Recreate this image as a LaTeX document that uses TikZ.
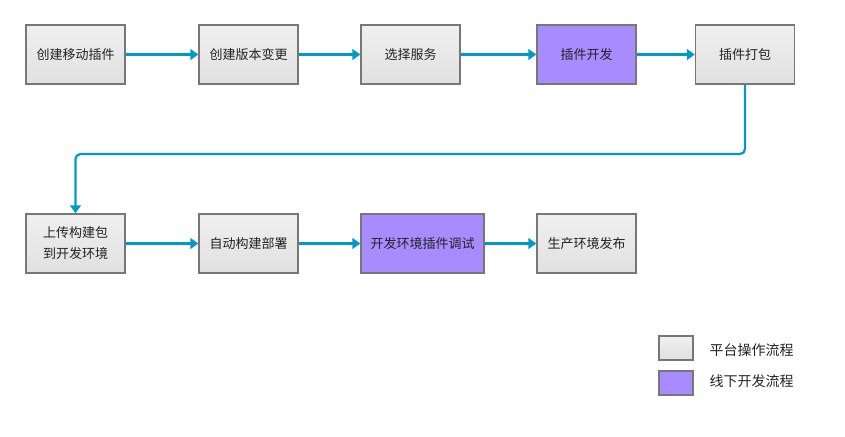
\documentclass[tikz,border=0pt]{standalone}
\usepackage{fontspec}
\setmainfont{Noto Sans CJK SC}
\usepackage{tikz}
\usetikzlibrary{arrows.meta,positioning}

\definecolor{flowblue}{HTML}{0099CC}
\definecolor{boxgray}{HTML}{777777}
\definecolor{devpurple}{HTML}{A88CFF}
\definecolor{txtgray}{HTML}{222222}

\tikzset{
  platbox/.style={draw=boxgray, line width=1.5pt, top color=white!94!black, bottom color=white!88!black,
    minimum width=99pt, minimum height=59pt, inner sep=2pt, align=center,
    text=txtgray, font=\fontsize{13}{21}\selectfont},
  devbox/.style={platbox, top color=devpurple, bottom color=devpurple, fill=devpurple},
  legtext/.style={anchor=west, text=txtgray, font=\fontsize{14}{16}\selectfont},
  flow/.style={draw=flowblue, line width=2.2pt, -{Triangle[length=8pt,width=11pt]}, rounded corners=5pt}
}

\begin{document}
\begin{tikzpicture}[x=1pt,y=-1pt]
  \useasboundingbox (0,0) rectangle (845,436);
  % first row
  \node[platbox] (mkplugin) at (75.5,54.5) {创建移动插件};
  \node[platbox] (mkchange) at (248.5,54.5) {创建版本变更};
  \node[platbox] (pickserv) at (410.5,54.5) {选择服务};
  \node[devbox] (plugdev) at (586.5,54.5) {插件开发};
  \node[platbox] (plugpack) at (745,54.5) {插件打包};
  % second row
  \node[platbox] (upload) at (75.5,243.5) {上传构建包\\到开发环境};
  \node[platbox] (autobuild) at (248.5,243.5) {自动构建部署};
  \node[devbox, minimum width=123pt] (envdebug) at (422.5,243.5) {开发环境插件调试};
  \node[platbox] (release) at (586.5,243.5) {生产环境发布};
  % legend
  \node[platbox, minimum width=34pt, minimum height=24pt] (legplat) at (676,348) {};
  \node[devbox, minimum width=34pt, minimum height=24pt] (legdev) at (676,383) {};
  \node[legtext] (legplattxt) at (706,350) {平台操作流程};
  \node[legtext] (legdevtxt) at (706,381) {线下开发流程};

  \draw[flow] (mkplugin) -- (mkchange);
  \draw[flow] (mkchange) -- (pickserv);
  \draw[flow] (pickserv) -- (plugdev);
  \draw[flow] (plugdev) -- (plugpack);
  \draw[flow] (plugpack.south) -- (745,154) -- (75.5,154) -- (upload.north);
  \draw[flow] (upload) -- (autobuild);
  \draw[flow] (autobuild) -- (envdebug);
  \draw[flow] (envdebug) -- (release);
\end{tikzpicture}
\end{document}
